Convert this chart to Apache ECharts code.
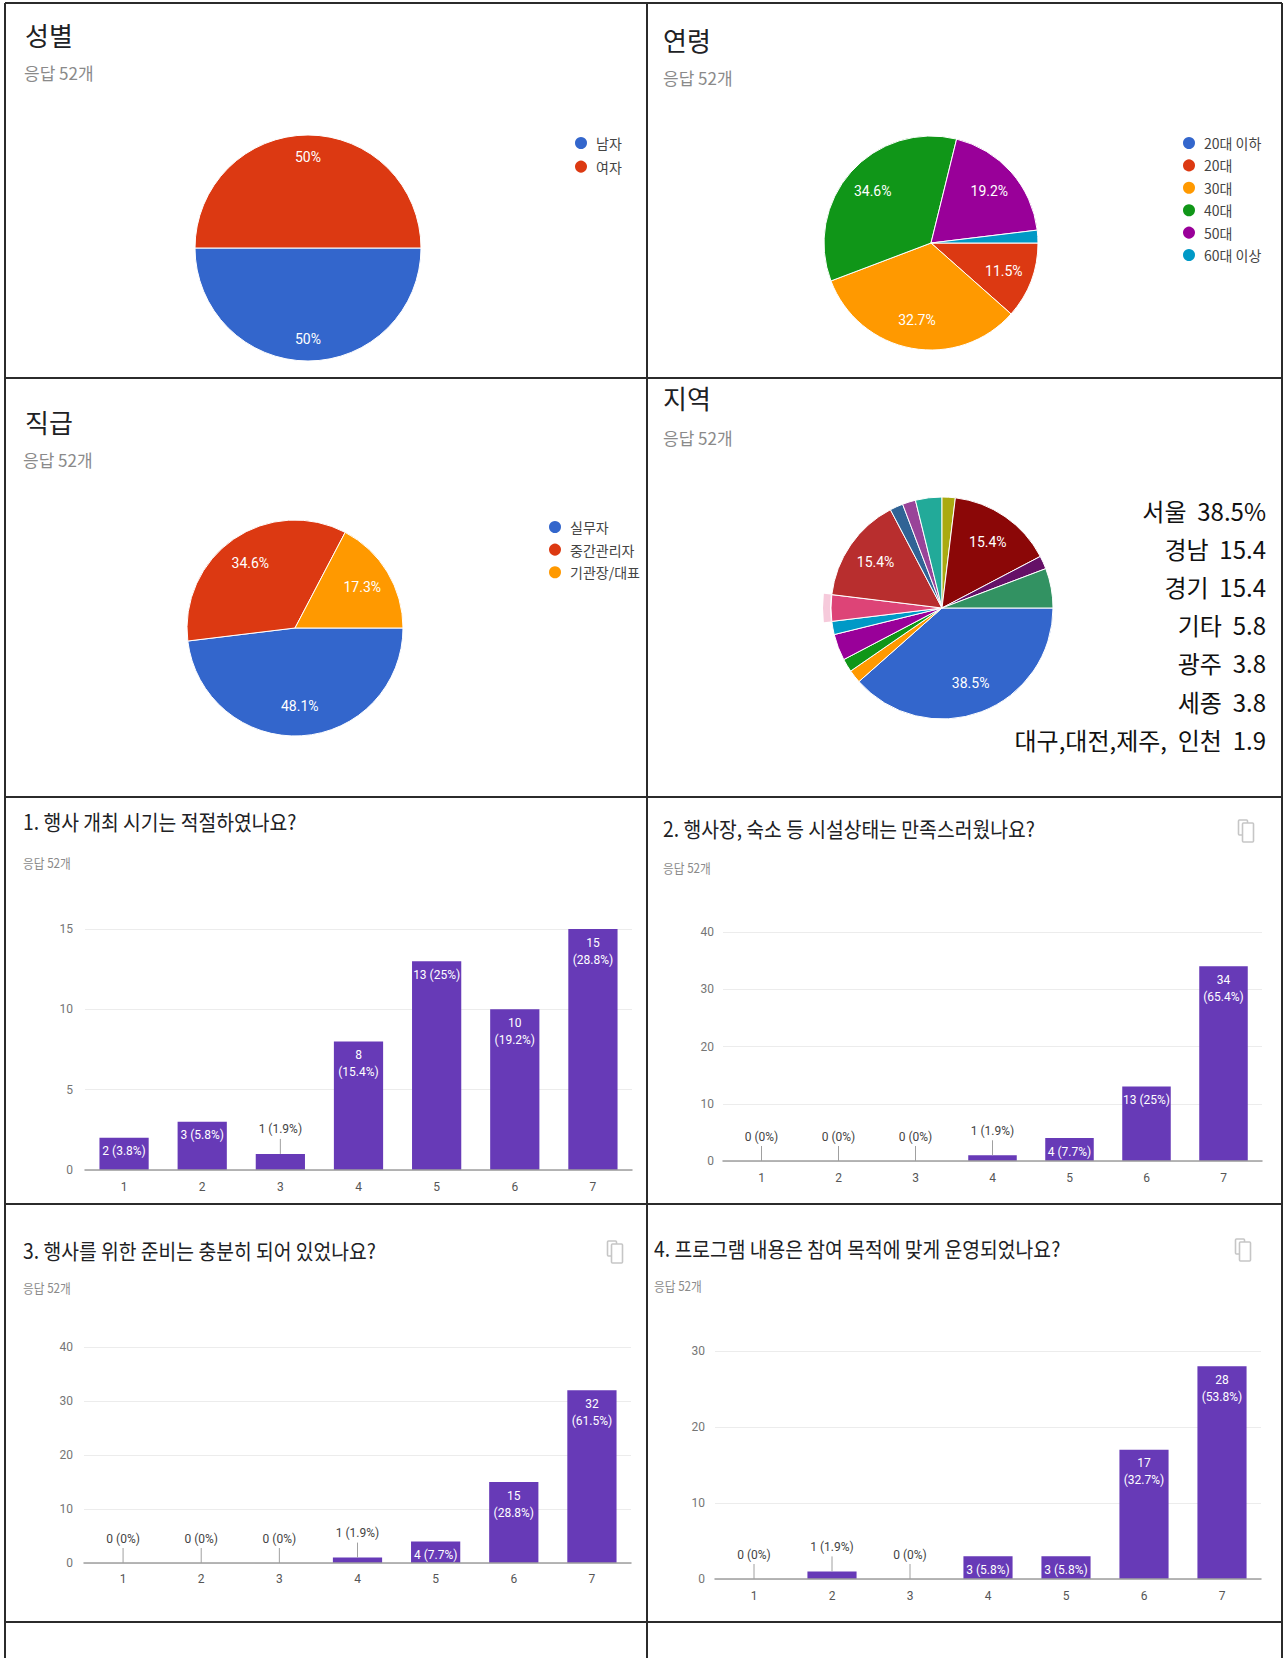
<!DOCTYPE html>
<html>
<head>
<meta charset="utf-8">
<title>설문 응답 결과</title>
<script src="https://cdn.jsdelivr.net/npm/echarts@6/dist/echarts.min.js"></script>
<style>
  html, body { margin: 0; padding: 0; background: #ffffff; }
  #chart { width: 1288px; height: 1658px; }
</style>
</head>
<body>
<div id="chart"></div>
<script>
// ---- survey data ----
const RESPONSES = 52;
const responseText = '응답 52개';

const genderNames = ['남자', '여자'];
const genderCounts = [26, 26];

const ageNames = ['20대 이하', '20대', '30대', '40대', '50대', '60대 이상'];
const ageCounts = [0, 6, 17, 18, 10, 1];

const rankNames = ['실무자', '중간관리자', '기관장/대표'];
const rankCounts = [25, 18, 9];

const regionNames = ['서울', '대구', '대전', '광주', '제주', '세종', '경기', '인천',
                     '지역 A', '지역 B', '지역 C', '경남', '지역 D', '기타'];
const regionCounts = [20, 1, 1, 2, 1, 2, 8, 1, 1, 2, 1, 8, 1, 3];
// non-breaking spaces keep the wide gaps in the summary lines
const regionNotes = ['서울\u00a0\u00a038.5%', '경남\u00a0\u00a015.4', '경기\u00a0\u00a015.4',
                     '기타\u00a0\u00a05.8', '광주\u00a0\u00a03.8', '세종\u00a0\u00a03.8',
                     '대구,대전,제주,\u00a0\u00a0인천\u00a0\u00a01.9'];

const pieTitles = ['성별', '연령', '직급', '지역'];

const scaleCategories = ['1', '2', '3', '4', '5', '6', '7'];
const q1Counts = [2, 3, 1, 8, 13, 10, 15];
const q2Counts = [0, 0, 0, 1, 4, 13, 34];
const q3Counts = [0, 0, 0, 1, 4, 15, 32];
const q4Counts = [0, 1, 0, 3, 3, 17, 28];
const questionTitles = [
  '1. 행사 개최 시기는 적절하였나요?',
  '2. 행사장, 숙소 등 시설상태는 만족스러웠나요?',
  '3. 행사를 위한 준비는 충분히 되어 있었나요?',
  '4. 프로그램 내용은 참여 목적에 맞게 운영되었나요?'
];

// ---- styling ----
const PALETTE = {
  blue: '#3366cc', red: '#dc3912', orange: '#ff9900', green: '#109618',
  purple: '#990099', cyan: '#0099c6', pink: '#dd4477', firebrick: '#b82e2e',
  navy: '#316395', orchid: '#994499', teal: '#22aa99', olive: '#aaaa11',
  maroon: '#8b0707', plum: '#651067', sea: '#329262'
};
const genderColors = [PALETTE.blue, PALETTE.red];
const ageColors = [PALETTE.blue, PALETTE.red, PALETTE.orange, PALETTE.green, PALETTE.purple, PALETTE.cyan];
const rankColors = [PALETTE.blue, PALETTE.red, PALETTE.orange];
const regionColors = [PALETTE.blue, PALETTE.orange, PALETTE.green, PALETTE.purple, PALETTE.cyan,
  PALETTE.pink, PALETTE.firebrick, PALETTE.navy, PALETTE.orchid, PALETTE.teal, PALETTE.olive,
  PALETTE.maroon, PALETTE.plum, PALETTE.sea];

const BAR_COLOR = '#673ab7';
const UI_FONT = 'Roboto, "Noto Sans CJK KR", sans-serif';
const KR_FONT = '"Noto Sans CJK KR", "Noto Sans", sans-serif';

function pctText(v) {
  const p = Math.round(v / RESPONSES * 1000) / 10;
  return (Number.isInteger(p) ? p.toFixed(0) : p.toFixed(1)) + '%';
}

// ---- pies ----
const series = [];
const legends = [];

function addPie(names, counts, colors, cx, cy, r, labelInner, legendBox) {
  series.push({
    type: 'pie', center: [cx, cy], radius: [0, r], startAngle: 0, clockwise: true,
    silent: true, animation: false,
    label: { show: false }, labelLine: { show: false },
    itemStyle: { borderColor: '#ffffff', borderWidth: 1 },
    emphasis: { disabled: true },
    data: names.map((n, i) => ({ name: n, value: counts[i], itemStyle: { color: colors[i] } }))
  });
  // transparent ring carrying the percentage labels
  series.push({
    type: 'pie', center: [cx, cy], radius: [r * labelInner, r], startAngle: 0, clockwise: true,
    silent: true, animation: false, labelLine: { show: false },
    itemStyle: { color: 'rgba(0,0,0,0)' },
    emphasis: { disabled: true },
    label: {
      show: true, position: 'inside', color: '#ffffff', fontSize: 14, fontFamily: UI_FONT,
      formatter: p => pctText(p.value)
    },
    data: names.map((n, i) => ({
      name: n + ' ', value: counts[i],
      label: { show: counts[i] / RESPONSES >= 0.1 }
    }))
  });
  if (legendBox) {
    legends.push({
      orient: 'vertical', left: legendBox.left, top: legendBox.top, padding: 0,
      itemWidth: 14, itemHeight: 14, itemGap: legendBox.gap, icon: 'circle',
      selectedMode: false,
      textStyle: { color: '#444444', fontSize: 14, lineHeight: 14, fontFamily: KR_FONT, padding: [0, 0, 0, 3] },
      data: names.map((n, i) => ({ name: n, itemStyle: { color: colors[i] } }))
    });
  }
}

addPie(genderNames, genderCounts, genderColors, 308, 248, 113, 0.56, { left: 573, top: 135, gap: 7.6 });
addPie(ageNames, ageCounts, ageColors, 931, 243, 107, 0.4, { left: 1181, top: 135, gap: 6.4 });
addPie(rankNames, rankCounts, rankColors, 295, 628, 108, 0.4, { left: 547, top: 519, gap: 6.6 });
addPie(regionNames, regionCounts, regionColors, 942, 608, 111, 0.4, null);

// hover-style halo around the pink region slice
series.push({
  type: 'pie', center: [942, 608], radius: [112, 119], startAngle: 0, clockwise: true,
  silent: true, animation: false, label: { show: false }, labelLine: { show: false },
  emphasis: { disabled: true },
  data: regionCounts.map((v, i) => ({
    name: 'halo' + i, value: v,
    itemStyle: { color: regionColors[i] === PALETTE.pink ? '#f6cadb' : 'rgba(0,0,0,0)' }
  }))
});

// ---- bar charts ----
const grids = [], xAxes = [], yAxes = [];

function addBars(counts, box, max, interval, yMargin, xMargin) {
  const idx = grids.length;
  grids.push({ left: box.left, top: box.top, width: box.width, height: box.height });
  xAxes.push({
    type: 'category', gridIndex: idx, data: scaleCategories,
    axisTick: { show: false },
    axisLine: { show: true, lineStyle: { color: '#9e9e9e', width: 1.5 } },
    axisLabel: { color: '#555555', fontSize: 12, fontFamily: UI_FONT, margin: xMargin },
    z: 5
  });
  yAxes.push({
    type: 'value', gridIndex: idx, min: 0, max: max, interval: interval,
    axisLine: { show: false }, axisTick: { show: false },
    splitLine: { lineStyle: { color: '#ececec', width: 1 } },
    axisLabel: { color: '#757575', fontSize: 12, fontFamily: UI_FONT, margin: yMargin }
  });
  const isOutside = v => v * box.height / max < 20;
  series.push({
    type: 'bar', xAxisIndex: idx, yAxisIndex: idx, barWidth: '63%', silent: true, animation: false,
    itemStyle: { color: BAR_COLOR },
    label: {
      show: true, position: 'insideTop', distance: 5, color: '#ffffff',
      fontSize: 12, lineHeight: 17, fontFamily: UI_FONT,
      formatter: p => {
        const s = p.value + ' (' + pctText(p.value) + ')';
        return s.length > 8 ? p.value + '\n(' + pctText(p.value) + ')' : s;
      }
    },
    data: counts.map(v => isOutside(v)
      ? { value: v, label: { position: 'top', distance: 16, color: '#444444' } }
      : { value: v })
  });
  // leader ticks for values written above short bars
  series.push({
    type: 'custom', xAxisIndex: idx, yAxisIndex: idx, silent: true, animation: false, z: 4,
    encode: { x: 0, y: 1 },
    data: counts.map((v, i) => [i, v]).filter(d => isOutside(d[1])),
    renderItem: (params, api) => {
      const pt = api.coord([api.value(0), api.value(1)]);
      return {
        type: 'line',
        shape: { x1: pt[0], y1: pt[1], x2: pt[0], y2: pt[1] - 15 },
        style: { stroke: '#a0a0a0', lineWidth: 1 }
      };
    }
  });
}

addBars(q1Counts, { left: 85, top: 929, width: 547, height: 241 }, 15, 5, 12, 11);
addBars(q2Counts, { left: 723, top: 932, width: 539, height: 229 }, 40, 10, 9, 11);
addBars(q3Counts, { left: 84, top: 1347, width: 547, height: 216 }, 40, 10, 11, 10);
addBars(q4Counts, { left: 715, top: 1351, width: 546, height: 228 }, 30, 10, 10, 11);

// ---- table frame, headings and notes ----
const graphics = [];
const LINE = '#2b2b2b';
function hLine(y, x1, x2) {
  graphics.push({ type: 'line', shape: { x1: x1, y1: y, x2: x2, y2: y }, style: { stroke: LINE, lineWidth: 2 }, silent: true });
}
function vLine(x, y1, y2) {
  graphics.push({ type: 'line', shape: { x1: x, y1: y1, x2: x, y2: y2 }, style: { stroke: LINE, lineWidth: 2 }, silent: true });
}
hLine(3, 5, 1282);
[378, 797, 1204, 1622].forEach(y => hLine(y, 5, 1282));
vLine(5, 3, 1658);
vLine(1282, 3, 1658);
vLine(647, 3, 1658);

function text(x, y, str, size, color, font, extra) {
  graphics.push(Object.assign({
    type: 'text', x: x, y: y, silent: true,
    style: {
      text: str, fill: color, fontSize: size, fontFamily: font,
      textAlign: 'left', textVerticalAlign: 'middle', align: 'left', verticalAlign: 'middle'
    }
  }, extra || {}));
}

// pie headings
const pieHeadPos = [[25, 34, 24, 72], [663, 39, 663, 77], [25, 421, 23, 459], [663, 397, 663, 437]];
pieTitles.forEach((t, i) => {
  const p = pieHeadPos[i];
  text(p[0], p[1], t, 26, '#202124', KR_FONT);
  text(p[2], p[3], responseText, 17, '#8a8a8a', KR_FONT);
});

// question headings
const qHeadPos = [[23, 821, 863], [663, 828, 868], [23, 1250, 1288], [654, 1248, 1286]];
questionTitles.forEach((t, i) => {
  const p = qHeadPos[i];
  text(p[0], p[1], t, 21, '#202124', KR_FONT, { scaleX: 0.92 });
  text(p[0], p[2], responseText, 13, '#8a8a8a', KR_FONT, { scaleX: 0.9 });
});

// region notes beside the region pie
regionNotes.forEach((t, i) => {
  graphics.push({
    type: 'text', x: 1266, y: 510 + i * 38.2, silent: true,
    style: {
      text: t, fill: '#111111', fontSize: 24, fontFamily: KR_FONT,
      textAlign: 'right', textVerticalAlign: 'middle', align: 'right', verticalAlign: 'middle'
    }
  });
});

// copy icons next to question headings
function copyIcon(cx, cy) {
  graphics.push({
    type: 'rect', silent: true,
    shape: { x: cx - 7.5, y: cy - 11, width: 9, height: 15, r: 1 },
    style: { fill: 'none', stroke: '#c6c6c6', lineWidth: 1.6 }
  });
  graphics.push({
    type: 'rect', silent: true,
    shape: { x: cx - 3.5, y: cy - 8, width: 11, height: 19, r: 1 },
    style: { fill: '#ffffff', stroke: '#c6c6c6', lineWidth: 1.6 }
  });
}
copyIcon(1246, 831);
copyIcon(615, 1252);
copyIcon(1243, 1250);

const chart = echarts.init(document.getElementById('chart'), null, { renderer: 'svg' });
chart.setOption({
  animation: false,
  backgroundColor: '#ffffff',
  textStyle: { fontFamily: UI_FONT },
  legend: legends,
  grid: grids,
  xAxis: xAxes,
  yAxis: yAxes,
  series: series,
  graphic: { elements: graphics }
});
</script>
</body>
</html>
